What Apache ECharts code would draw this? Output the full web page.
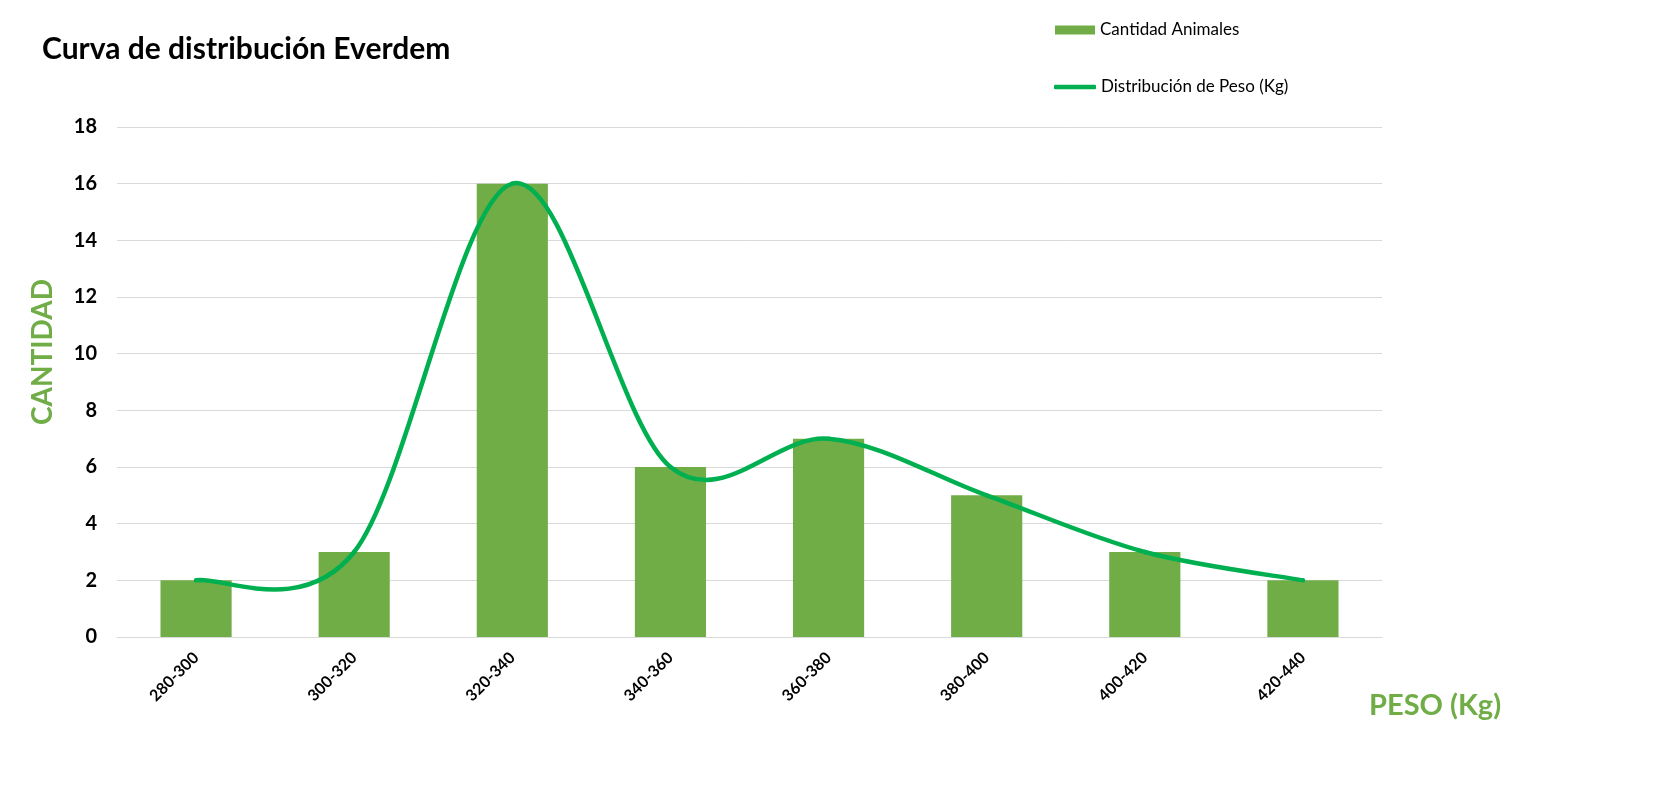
<!DOCTYPE html>
<html>
<head>
<meta charset="utf-8">
<title>Curva de distribución Everdem</title>
<script src="https://cdn.jsdelivr.net/npm/echarts@6/dist/echarts.min.js"></script>
<style>
  html, body { margin: 0; padding: 0; background: #ffffff; }
  #main { width: 1671px; height: 785px; }
</style>
</head>
<body>
<div id="main"></div>
<script>
// rangos de peso (Kg)
var categories = ['280-300', '300-320', '320-340', '340-360', '360-380', '380-400', '400-420', '420-440'];
// cantidad de animales por rango
var cantidad = [2, 3, 16, 6, 7, 5, 3, 2];
// curva de distribucion (mismos puntos, suavizada tipo Excel)
var distribucion = [2, 3, 16, 6, 7, 5, 3, 2];
var yMin = 0, yMax = 18, yStep = 2;

var font = 'Lato';
var verde = '#70ad47';
var verdeLinea = '#00b050';

// tramo de curva entre el punto i y el i+1 (Catmull-Rom, como la linea suavizada de Excel)
function renderCurva(params, api) {
    var i = params.dataIndex;
    var n = distribucion.length;
    if (i >= n - 1) {
        return null;
    }
    function pt(j) {
        j = Math.max(0, Math.min(n - 1, j));
        return api.coord([j, distribucion[j]]);
    }
    var p0 = pt(i - 1), p1 = pt(i), p2 = pt(i + 1), p3 = pt(i + 2);
    return {
        type: 'bezierCurve',
        shape: {
            x1: p1[0], y1: p1[1],
            x2: p2[0], y2: p2[1],
            cpx1: p1[0] + (p2[0] - p0[0]) / 6,
            cpy1: p1[1] + (p2[1] - p0[1]) / 6,
            cpx2: p2[0] - (p3[0] - p1[0]) / 6,
            cpy2: p2[1] - (p3[1] - p1[1]) / 6
        },
        style: {
            fill: null,
            stroke: verdeLinea,
            lineWidth: 4.5,
            lineCap: 'round'
        }
    };
}

function drawChart() {
    var myChart = echarts.init(document.getElementById('main'));

    var legendText = {
        color: '#000000',
        fontFamily: font,
        fontSize: 17,
        lineHeight: 20
    };

    var option = {
        backgroundColor: '#ffffff',
        animation: false,
        title: {
            text: 'Curva de distribución Everdem',
            left: 37,
            top: 29,
            textStyle: {
                color: '#000000',
                fontFamily: font,
                fontWeight: 'bold',
                fontSize: 30
            }
        },
        legend: [
            {
                orient: 'vertical',
                left: 1050,
                top: 15,
                itemWidth: 40,
                itemHeight: 9,
                textStyle: legendText,
                data: [{ name: 'Cantidad Animales', icon: 'rect' }]
            },
            {
                orient: 'vertical',
                left: 1049,
                top: 72,
                itemWidth: 42,
                itemHeight: 4.5,
                textStyle: legendText,
                data: [{ name: 'Distribución de Peso (Kg)', icon: 'roundRect' }]
            }
        ],
        grid: {
            left: 117,
            right: 289,
            top: 127,
            bottom: 148
        },
        xAxis: {
            type: 'category',
            data: categories,
            boundaryGap: true,
            axisLine: { show: true, lineStyle: { color: '#d9d9d9', width: 1 } },
            axisTick: { show: false },
            axisLabel: {
                rotate: 45,
                margin: 18,
                color: '#000000',
                fontFamily: font,
                fontWeight: 'bold',
                fontSize: 16
            }
        },
        yAxis: {
            type: 'value',
            min: yMin,
            max: yMax,
            interval: yStep,
            axisLine: { show: false },
            axisTick: { show: false },
            axisLabel: {
                margin: 20,
                color: '#000000',
                fontFamily: font,
                fontWeight: 'bold',
                fontSize: 20
            },
            splitLine: { show: true, lineStyle: { color: '#d9d9d9', width: 1 } }
        },
        // nombres de ejes
        graphic: [
            {
                type: 'text',
                x: 43,
                y: 352,
                rotation: Math.PI / 2,
                style: {
                    text: 'CANTIDAD',
                    fill: verde,
                    font: 'bold 28px ' + font,
                    align: 'center',
                    verticalAlign: 'middle'
                }
            },
            {
                type: 'text',
                x: 1369,
                y: 706,
                style: {
                    text: 'PESO (Kg)',
                    fill: verde,
                    font: 'bold 29px ' + font,
                    align: 'left',
                    verticalAlign: 'middle'
                }
            }
        ],
        series: [
            {
                name: 'Cantidad Animales',
                type: 'bar',
                barWidth: '45%',
                itemStyle: { color: verde },
                data: cantidad
            },
            {
                name: 'Distribución de Peso (Kg)',
                type: 'custom',
                itemStyle: { color: verdeLinea },
                renderItem: renderCurva,
                encode: { x: 0, y: 1 },
                data: distribucion.map(function (v, i) { return [i, v]; }),
                z: 3
            }
        ]
    };

    myChart.setOption(option);
}

drawChart();
</script>
</body>
</html>
